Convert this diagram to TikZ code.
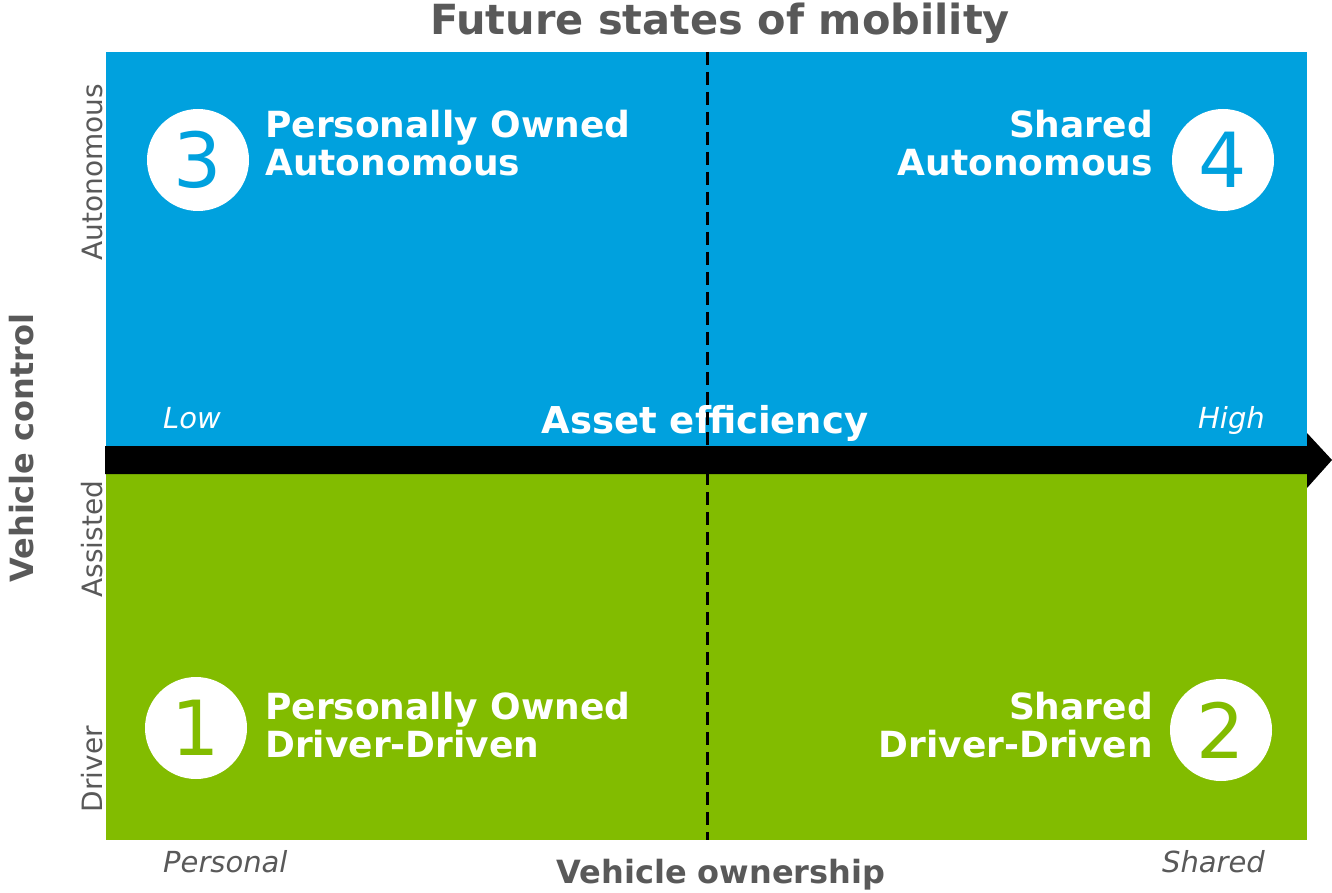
\documentclass[tikz,border=0pt]{standalone}
\usepackage{fontspec}
\setmainfont{DejaVu Sans}
\usetikzlibrary{positioning,calc}
\definecolor{quadblue}{RGB}{0,161,222}
\definecolor{quadgreen}{RGB}{130,188,0}
\definecolor{axisgray}{RGB}{89,89,89}

\begin{document}
\begin{tikzpicture}[x=1pt,y=-1pt,
	num/.style={circle,fill=white,inner sep=0pt,minimum size=102pt,font=\fontsize{76}{76}\selectfont},
	quad/.style={text=white,inner sep=0pt,font=\bfseries\fontsize{36}{38}\selectfont},
	lvl/.style={text=axisgray,rotate=90,anchor=base,inner sep=0pt,font=\fontsize{28}{28}\selectfont},
	ends/.style={inner sep=0pt,font=\itshape\fontsize{29}{29}\selectfont},
	axis/.style={text=axisgray,anchor=base,inner sep=0pt,font=\bfseries\fontsize{32}{32}\selectfont}]
	\useasboundingbox (0,0) rectangle (1332,893);
	% quadrants
	\fill[quadblue] (106,52) rectangle (1307,446);
	\fill[quadgreen] (106,474) rectangle (1307,840);
	% asset efficiency arrow
	\coordinate (tail) at (105,460);
	\coordinate (tip) at (1332,460);
	\fill ($(tail)+(0,-14)$) -- (1307,446) -- (1307,433) -- (tip) -- (1307,488) -- (1307,474) -- ($(tail)+(0,14)$) -- cycle;
	% numbered states
	\node[num,text=quadblue] (n3) at (198,160) {3};
	\node[num,text=quadblue] (n4) at (1223,160) {4};
	\node[num,text=quadgreen] (n1) at (196,728) {1};
	\node[num,text=quadgreen] (n2) at (1221,730) {2};
	\node[quad,anchor=north west,align=left] (po3) at (265,110) {Personally Owned\\Autonomous};
	\node[quad,anchor=north east,align=right] (sh4) at (1153,110) {Shared\\Autonomous};
	\node[quad,anchor=north west,align=left] (po1) at (265,692) {Personally Owned\\Driver-Driven};
	\node[quad,anchor=north east,align=right] (sh2) at (1153,692) {Shared\\Driver-Driven};
	% axes
	\node[axis,font=\bfseries\fontsize{41.5}{41.5}\selectfont] (title) at (720,35) {Future states of mobility};
	\node[axis,text=white,font=\bfseries\fontsize{37}{37}\selectfont] (eff) at (705,433) {Asset efficiency};
	\node[ends,text=white,anchor=base west] (low) at (163,428) {Low};
	\node[ends,text=white,anchor=base east] (high) at (1265,428) {High};
	\node[ends,text=axisgray,anchor=base west] (pers) at (163,872) {Personal};
	\node[ends,text=axisgray,anchor=base east] (shar) at (1265,872) {Shared};
	\node[axis] (own) at (721,883) {Vehicle ownership};
	\node[axis,rotate=90] (ctrl) at (33,448) {Vehicle control};
	\node[lvl] (auto) at (102,172) {Autonomous};
	\node[lvl] (assi) at (102,539) {Assisted};
	\node[lvl] (driv) at (102,769) {Driver};
	% ownership split
	\draw[dash pattern=on 13pt off 7pt,line width=3pt] (707,52) -- (707,840);
\end{tikzpicture}
\end{document}
